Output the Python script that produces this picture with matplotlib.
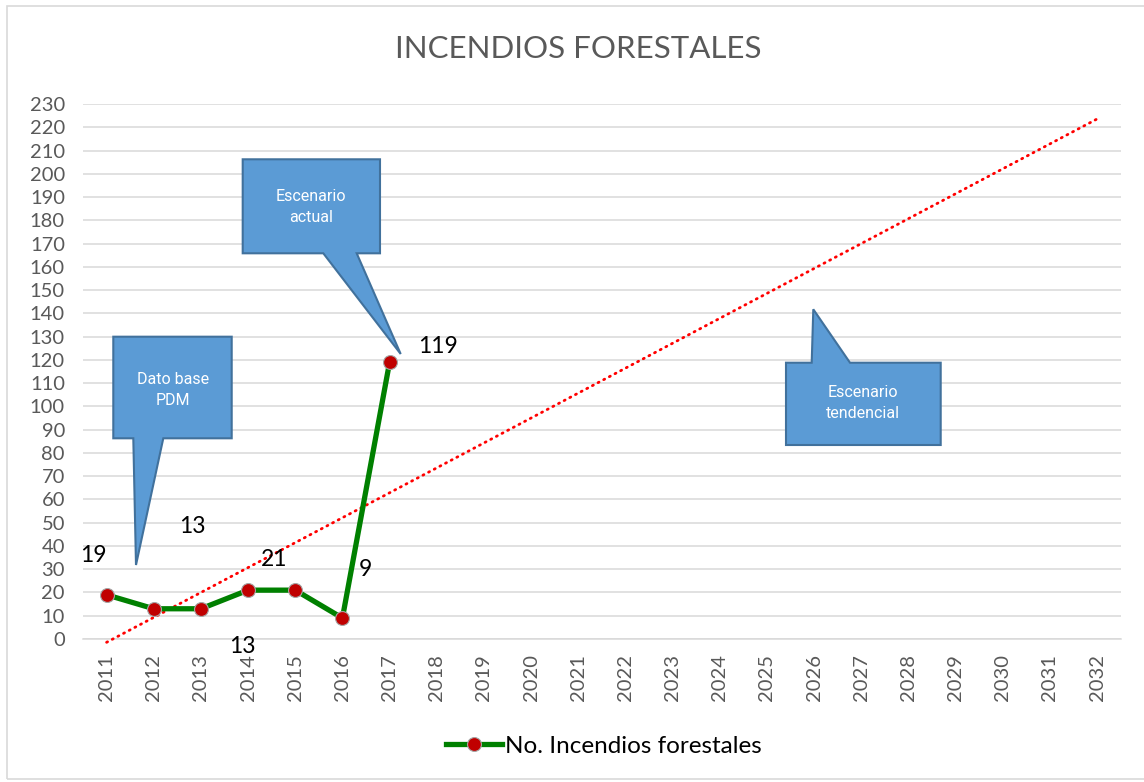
import numpy as np
import matplotlib
matplotlib.use("Agg")
import matplotlib.pyplot as plt
from matplotlib.patches import Polygon, Rectangle
from matplotlib.lines import Line2D

# ---------------- data ----------------
years = list(range(2011, 2033))
obs_years = [2011, 2012, 2013, 2014, 2015, 2016, 2017]
incendios = [19, 13, 13, 21, 21, 9, 119]
series_name = "No. Incendios forestales"
title = "INCENDIOS FORESTALES"
y_ticks = list(range(0, 240, 10))

# data-label placement (offsets from the point, data units) - style only
label_idx = [0, 1, 2, 4, 5, 6]
label_dx = [-0.29, 0.81, 0.87, -0.44, 0.48, 1.02]
label_dy = [17.1, 35.3, -16.3, 13.0, 20.7, 6.7]

W, H = 1144, 782
fig = plt.figure(figsize=(W / 100, H / 100), dpi=100)
fig.patch.set_facecolor("white")

def fx(x):
    return x / W

def fy(y):
    return 1 - y / H

ax = fig.add_axes([fx(83), fy(639), (1120.7 - 83) / W, (639 - 104) / H])
ax.set_xlim(2010.5, 2032.5)
ax.set_ylim(0, 230)
ax.set_yticks(y_ticks)
ax.set_xticks(years)
ax.set_xticklabels([str(y) for y in years], rotation=90)
ax.grid(axis="y", color="#D9D9D9", lw=1.1)
ax.set_axisbelow(True)
for s in ["top", "right", "left"]:
    ax.spines[s].set_visible(False)
ax.spines["bottom"].set_color("#D9D9D9")
ax.spines["bottom"].set_linewidth(1.1)
ax.tick_params(axis="y", length=0, pad=13, labelsize=14.5, labelcolor="#595959")
ax.tick_params(axis="x", length=0, pad=11, labelsize=14.5, labelcolor="#595959")
for lab in ax.get_xticklabels() + ax.get_yticklabels():
    lab.set_fontfamily("Lato")

# trend line (linear fit of observed series)
xi = np.arange(1, len(incendios) + 1)
coef = np.polyfit(xi, incendios, 1)
xt = np.arange(1, len(years) + 1)
trend = np.polyval(coef, xt)
ax.plot(years, trend, color="#FF0000", lw=2.0, linestyle=(0, (0.4, 1.9)),
        dash_capstyle="round", zorder=3, clip_on=False)

# main series
ax.plot(obs_years, incendios, color="#008000", lw=3.8, marker="o", markersize=10,
        markerfacecolor="#C00000", markeredgecolor="#A6A6A6", markeredgewidth=0.8,
        zorder=4, solid_capstyle="round")

for i, dx, dy in zip(label_idx, label_dx, label_dy):
    ax.text(obs_years[i] + dx, incendios[i] + dy, str(incendios[i]), ha="center",
            va="center", fontsize=16.5, color="black", family="Lato", zorder=6,
            clip_on=False)

# callouts (figure pixel coordinates)
callouts = [
    ([(113.3, 336.7), (231.7, 336.7), (231.7, 438.3), (163.3, 438.3), (136, 565),
      (133.3, 438.3), (113.3, 438.3)], (172.7, 390), "Dato base\nPDM"),
    ([(242.7, 159.3), (380, 159.3), (380, 253.3), (356.7, 253.3), (400.7, 354),
      (323.3, 253.3), (242.7, 253.3)], (311, 207), "Escenario\nactual"),
    ([(786, 362.7), (811.7, 362.7), (813.3, 309.3), (850, 362.7), (940.7, 362.7),
      (940.7, 445), (786, 445)], (862.7, 403), "Escenario\ntendencial"),
]
for verts, (tx, ty), txt in callouts:
    poly = Polygon([(fx(x), fy(y)) for x, y in verts], closed=True,
                   transform=fig.transFigure, facecolor="#5B9BD5",
                   edgecolor="#41719C", lw=1.5, zorder=10)
    fig.patches.append(poly)
    fig.text(fx(tx), fy(ty), txt, ha="center", va="center", color="white",
             fontsize=11.5, family="Roboto", linespacing=1.45, zorder=11)

# title
fig.text(fx(578), fy(49), title, ha="center", va="center", fontsize=22.5,
         color="#595959", family="Lato", fontweight="normal")

# legend
handle = Line2D([], [], color="#008000", lw=3.8, marker="o", markersize=10,
                markerfacecolor="#C00000", markeredgecolor="#A6A6A6",
                markeredgewidth=0.8)
fig.legend([handle], [series_name], loc="center",
           bbox_to_anchor=(fx(604), fy(746)), frameon=False,
           prop={"family": "Lato", "size": 17.5}, handlelength=2.3,
           handletextpad=0.15)

# chart-area border
fig.patches.append(Rectangle((fx(7), fy(779)), fx(1160) - fx(7), fy(6) - fy(779),
                             transform=fig.transFigure, fill=False,
                             edgecolor="#D9D9D9", lw=1.2, zorder=0))

fig.savefig("out.png", dpi=100)
